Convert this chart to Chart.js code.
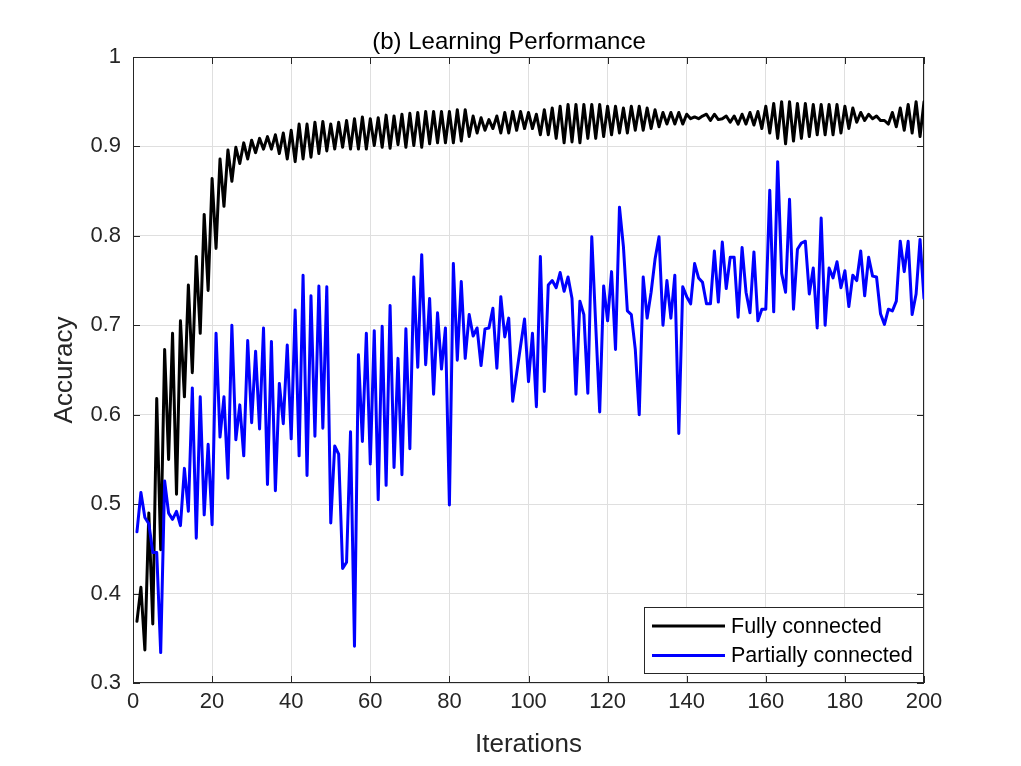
<!DOCTYPE html>
<html>
<head>
<meta charset="utf-8">
<title>Learning Performance</title>
<script src="https://cdn.jsdelivr.net/npm/chart.js@4"></script>
<style>
  html, body { margin: 0; padding: 0; background: #fff; overflow: hidden; }
  #wrap { width: 1021px; height: 766px; position: relative; }
</style>
</head>
<body>
<div id="wrap"><canvas id="chart"></canvas></div>
<script>
/* ── Data ──────────────────────────────────────────────────── */

const titleText = "(b) Learning Performance";
const xLabel = "Iterations";
const yLabel = "Accuracy";
const seriesNames = ["Fully connected", "Partially connected"];

const xTicks = [0, 20, 40, 60, 80, 100, 120, 140, 160, 180, 200];
const yTicks = [0.3, 0.4, 0.5, 0.6, 0.7, 0.8, 0.9, 1];

// accuracy per iteration, iterations 1..200
const fullyConnected = [
  0.369, 0.407, 0.337, 0.490, 0.366, 0.618, 0.449, 0.673, 0.550, 0.691,
  0.511, 0.705, 0.620, 0.745, 0.647, 0.777, 0.691, 0.824, 0.739, 0.864,
  0.786, 0.886, 0.833, 0.896, 0.861, 0.899, 0.881, 0.904, 0.886, 0.907,
  0.893, 0.909, 0.897, 0.911, 0.897, 0.913, 0.892, 0.915, 0.886, 0.918,
  0.883, 0.925, 0.886, 0.925, 0.888, 0.927, 0.892, 0.928, 0.895, 0.925,
  0.897, 0.927, 0.899, 0.929, 0.897, 0.931, 0.897, 0.933, 0.897, 0.931,
  0.901, 0.932, 0.899, 0.935, 0.898, 0.934, 0.902, 0.936, 0.899, 0.937,
  0.901, 0.938, 0.899, 0.939, 0.903, 0.939, 0.904, 0.939, 0.904, 0.939,
  0.904, 0.941, 0.906, 0.941, 0.911, 0.934, 0.915, 0.932, 0.918, 0.930,
  0.920, 0.934, 0.915, 0.938, 0.915, 0.939, 0.918, 0.939, 0.920, 0.938,
  0.920, 0.936, 0.913, 0.941, 0.913, 0.943, 0.909, 0.945, 0.904, 0.947,
  0.905, 0.947, 0.904, 0.947, 0.909, 0.947, 0.909, 0.947, 0.911, 0.945,
  0.913, 0.945, 0.915, 0.943, 0.915, 0.945, 0.918, 0.945, 0.918, 0.943,
  0.920, 0.941, 0.922, 0.938, 0.925, 0.938, 0.925, 0.938, 0.925, 0.936,
  0.931, 0.933, 0.931, 0.934, 0.936, 0.929, 0.936, 0.930, 0.931, 0.934,
  0.927, 0.934, 0.925, 0.936, 0.925, 0.938, 0.924, 0.939, 0.920, 0.945,
  0.915, 0.948, 0.909, 0.950, 0.903, 0.950, 0.906, 0.948, 0.909, 0.948,
  0.911, 0.947, 0.913, 0.947, 0.913, 0.947, 0.913, 0.947, 0.915, 0.945,
  0.920, 0.943, 0.927, 0.938, 0.929, 0.936, 0.931, 0.934, 0.929, 0.929,
  0.925, 0.938, 0.922, 0.943, 0.918, 0.947, 0.915, 0.950, 0.911, 0.950
];

const partiallyConnected = [
  0.469, 0.513, 0.485, 0.478, 0.446, 0.446, 0.334, 0.526, 0.490, 0.483,
  0.492, 0.476, 0.540, 0.492, 0.630, 0.462, 0.620, 0.488, 0.567, 0.477,
  0.691, 0.575, 0.620, 0.529, 0.700, 0.572, 0.611, 0.554, 0.683, 0.591,
  0.671, 0.584, 0.697, 0.522, 0.682, 0.515, 0.635, 0.590, 0.678, 0.573,
  0.717, 0.554, 0.756, 0.532, 0.733, 0.576, 0.744, 0.585, 0.743, 0.479,
  0.565, 0.556, 0.428, 0.435, 0.581, 0.341, 0.667, 0.570, 0.691, 0.545,
  0.694, 0.505, 0.699, 0.521, 0.722, 0.541, 0.663, 0.533, 0.696, 0.562,
  0.754, 0.653, 0.779, 0.656, 0.730, 0.623, 0.714, 0.651, 0.697, 0.499,
  0.769, 0.661, 0.749, 0.663, 0.712, 0.688, 0.697, 0.655, 0.696, 0.697,
  0.719, 0.652, 0.732, 0.687, 0.708, 0.615, 0.646, 0.677, 0.707, 0.637,
  0.691, 0.609, 0.777, 0.626, 0.745, 0.750, 0.742, 0.759, 0.738, 0.754,
  0.730, 0.623, 0.727, 0.712, 0.624, 0.799, 0.700, 0.603, 0.744, 0.705,
  0.760, 0.673, 0.832, 0.788, 0.716, 0.712, 0.673, 0.600, 0.754, 0.708,
  0.737, 0.774, 0.799, 0.700, 0.750, 0.708, 0.756, 0.579, 0.743, 0.732,
  0.724, 0.769, 0.753, 0.748, 0.724, 0.724, 0.783, 0.726, 0.793, 0.741,
  0.776, 0.776, 0.709, 0.787, 0.737, 0.714, 0.782, 0.705, 0.718, 0.718,
  0.851, 0.715, 0.883, 0.758, 0.737, 0.841, 0.718, 0.785, 0.792, 0.794,
  0.735, 0.764, 0.697, 0.820, 0.700, 0.764, 0.753, 0.771, 0.742, 0.761,
  0.721, 0.756, 0.750, 0.783, 0.733, 0.776, 0.755, 0.754, 0.713, 0.701,
  0.718, 0.716, 0.727, 0.794, 0.760, 0.794, 0.712, 0.735, 0.796, 0.730
];

/* ── Style ─────────────────────────────────────────────────── */

const FONT = "'Liberation Sans', Arial, Helvetica, sans-serif";
const AXIS_CLR = "#262626";
const GRID_CLR = "#dfdfdf";
const LINE_CLR = ["#000000", "#0000ff"];
const LINE_W = 3;

const toPoints = arr => arr.map((v, i) => ({ x: i + 1, y: v }));

/* ── Frame, inward ticks, title, legend (MATLAB look) ──────── */

const matlabAxes = {
  id: "matlabAxes",
  beforeDatasetsDraw(chart) {
    const { ctx, chartArea: a, scales } = chart;
    const tl = 7;
    ctx.save();
    ctx.strokeStyle = AXIS_CLR;
    ctx.lineWidth = 1;
    ctx.strokeRect(a.left + 0.5, a.top + 0.5, a.right - a.left - 1, a.bottom - a.top - 1);
    ctx.beginPath();
    xTicks.forEach(v => {
      const px = Math.round(scales.x.getPixelForValue(v)) + 0.5;
      ctx.moveTo(px, a.bottom); ctx.lineTo(px, a.bottom - tl);
      ctx.moveTo(px, a.top);    ctx.lineTo(px, a.top + tl);
    });
    yTicks.forEach(v => {
      const py = Math.round(scales.y.getPixelForValue(v)) + 0.5;
      ctx.moveTo(a.left, py);  ctx.lineTo(a.left + tl, py);
      ctx.moveTo(a.right, py); ctx.lineTo(a.right - tl, py);
    });
    ctx.stroke();
    ctx.restore();
  },
  afterDraw(chart) {
    const { ctx, chartArea: a } = chart;
    ctx.save();

    // title
    ctx.fillStyle = "#000";
    ctx.font = `24px ${FONT}`;
    ctx.textAlign = "center";
    ctx.textBaseline = "middle";
    ctx.fillText(titleText, 509, 42);

    // legend box, bottom-right inside the axes
    const w = 279, h = 66;
    const x0 = a.right - 1 - w, y0 = a.bottom - 10 - h;
    ctx.fillStyle = "#fff";
    ctx.fillRect(x0, y0, w, h);
    ctx.strokeStyle = AXIS_CLR;
    ctx.lineWidth = 1;
    ctx.strokeRect(x0 + 0.5, y0 + 0.5, w, h);

    ctx.font = `21.5px ${FONT}`;
    ctx.textAlign = "left";
    seriesNames.forEach((name, k) => {
      const ly = y0 + 19 + k * 29.5;
      ctx.strokeStyle = LINE_CLR[k];
      ctx.lineWidth = LINE_W;
      ctx.beginPath();
      ctx.moveTo(x0 + 8, ly);
      ctx.lineTo(x0 + 81, ly);
      ctx.stroke();
      ctx.fillStyle = "#000";
      ctx.fillText(name, x0 + 87, ly + 1);
    });
    ctx.restore();
  }
};

/* ── Chart ─────────────────────────────────────────────────── */

new Chart(document.getElementById("chart"), {
  type: "line",
  data: {
    datasets: [
      {
        label: seriesNames[0],
        data: toPoints(fullyConnected),
        borderColor: LINE_CLR[0],
        borderWidth: LINE_W,
        borderJoinStyle: "round",
        borderCapStyle: "round",
        pointRadius: 0,
        tension: 0,
        order: 1,
      },
      {
        label: seriesNames[1],
        data: toPoints(partiallyConnected),
        borderColor: LINE_CLR[1],
        borderWidth: LINE_W,
        borderJoinStyle: "round",
        borderCapStyle: "round",
        pointRadius: 0,
        tension: 0,
        order: 0,
      },
    ],
  },
  options: {
    responsive: true,
    maintainAspectRatio: false,
    animation: false,
    layout: { padding: { left: 0, right: 97, top: 57, bottom: 0 } },
    plugins: {
      legend: { display: false },
      title: { display: false },
      tooltip: { enabled: false },
    },
    scales: {
      x: {
        type: "linear",
        min: 0,
        max: 200,
        afterBuildTicks: s => { s.ticks = xTicks.map(v => ({ value: v })); },
        afterFit: s => { s.height = 83; },
        grid: { color: GRID_CLR, drawTicks: false },
        border: { display: false },
        ticks: {
          color: AXIS_CLR,
          padding: 6,
          maxRotation: 0,
          autoSkip: false,
          font: { family: FONT, size: 22 },
        },
        title: {
          display: true,
          text: xLabel,
          color: AXIS_CLR,
          font: { family: FONT, size: 26 },
          padding: { top: 0, bottom: 6 },
        },
      },
      y: {
        min: 0.3,
        max: 1,
        afterBuildTicks: s => { s.ticks = yTicks.map(v => ({ value: v })); },
        afterFit: s => { s.width = 133; },
        grid: { color: GRID_CLR, drawTicks: false },
        border: { display: false },
        ticks: {
          color: AXIS_CLR,
          padding: 12,
          autoSkip: false,
          font: { family: FONT, size: 22 },
          callback: v => String(Math.round(v * 10) / 10),
        },
        title: {
          display: true,
          text: yLabel,
          color: AXIS_CLR,
          font: { family: FONT, size: 26 },
          padding: { top: 49, bottom: 0 },
        },
      },
    },
  },
  plugins: [matlabAxes],
});
</script>
</body>
</html>
